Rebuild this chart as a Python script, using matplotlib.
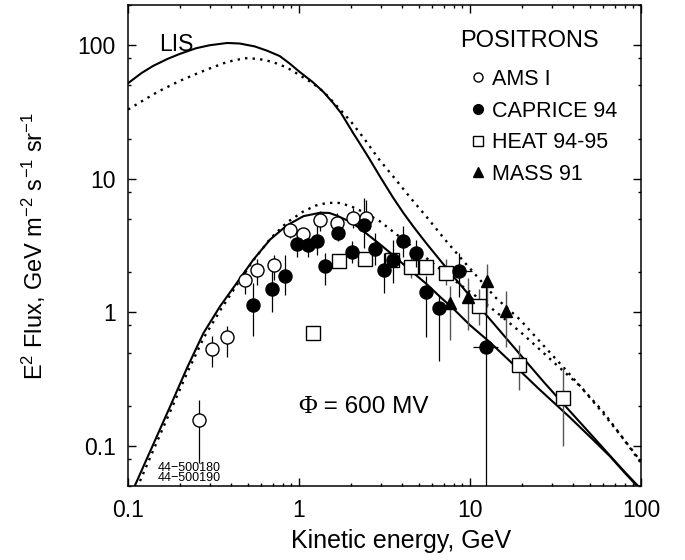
"""
Positronen-Spektrum: E^2 Flux vs kinetische Energie
- LIS und moduliert (Phi = 600 MV), zwei Modelle (durchgezogen / gepunktet)
- Messdaten AMS I, CAPRICE 94, HEAT 94-95, MASS 91
"""

import matplotlib
matplotlib.use("Agg")
import matplotlib.pyplot as plt
import numpy as np
from matplotlib.lines import Line2D
from matplotlib.ticker import FixedLocator, FixedFormatter, LogLocator, NullFormatter

# --- Modellkurven (E in GeV, E^2 Flux) ---
lis_solid_e = [0.1, 0.12, 0.14, 0.17, 0.2, 0.25, 0.3, 0.38, 0.45, 0.55, 0.65, 0.77,
               0.88, 1.0, 1.2, 1.38, 1.58, 1.76, 2.07, 2.3, 2.56, 2.97, 3.55, 4.07,
               4.66, 5.5, 6.7, 8, 10, 14, 19, 27, 38, 52, 66, 80, 92, 100]
lis_solid_f = [52, 62, 70, 79, 86, 95, 100, 104, 103, 98, 91, 83,
               73, 63.6, 53, 45, 37, 31, 22, 17.8, 14.3, 10.4, 7.2, 5.55,
               4.38, 3.33, 2.44, 1.85, 1.32, 0.80, 0.506, 0.30, 0.184, 0.118, 0.084, 0.064, 0.053, 0.0475]

lis_dot_e = [0.1, 0.12, 0.15, 0.2, 0.25, 0.3, 0.38, 0.48, 0.58, 0.7, 0.85, 1.0,
             1.2, 1.4, 1.7, 2.0, 2.4, 2.93, 3.64, 4.56, 5.7, 7, 8.7, 11,
             14, 19.6, 27, 35, 44, 60, 80, 100]
lis_dot_f = [33, 38, 45, 54, 61, 67, 75, 80, 79, 75, 68, 60,
             52, 44.5, 34, 27, 20, 14, 10, 7.0, 5.0, 3.6, 2.6, 1.85,
             1.3, 0.88, 0.56, 0.39, 0.28, 0.175, 0.11, 0.076]

mod_solid_e = [0.105, 0.11, 0.14, 0.176, 0.221, 0.276, 0.345, 0.432, 0.54, 0.677,
               0.847, 1.06, 1.33, 1.5, 1.66, 2.0, 2.27, 2.6, 3.0, 3.4, 3.9, 4.5,
               5.5, 6.7, 8, 10, 13, 17.8, 25, 38, 52, 66, 80, 92, 100]
mod_solid_f = [0.042, 0.051, 0.102, 0.197, 0.383, 0.70, 1.11, 1.66, 2.48, 3.51,
               4.47, 5.25, 5.57, 5.55, 5.3, 4.75, 4.25, 3.7, 3.2, 2.8, 2.4, 2.05,
               1.65, 1.3, 1.06, 0.8, 0.6, 0.41, 0.27, 0.165, 0.112, 0.083, 0.063, 0.052, 0.046]

mod_dot_e = [0.108, 0.114, 0.14, 0.176, 0.221, 0.276, 0.345, 0.432, 0.54, 0.677,
             0.847, 1.06, 1.25, 1.46, 1.7, 2.0, 2.4, 2.97, 3.9, 5.0, 6.0, 8.0,
             11, 15, 20, 25, 33, 44, 60, 80, 100]
mod_dot_f = [0.043, 0.05, 0.092, 0.18, 0.35, 0.64, 1.03, 1.6, 2.45, 3.55,
             4.7, 5.7, 6.3, 6.6, 6.6, 6.25, 5.6, 4.8, 3.65, 2.85, 2.35, 1.75,
             1.3, 0.95, 0.7, 0.54, 0.39, 0.28, 0.18, 0.11, 0.074]

# --- Messdaten ---
ams_e = [0.26, 0.31, 0.38, 0.48, 0.57, 0.71, 0.89, 1.06, 1.33, 1.66, 2.06, 2.47]
ams_f = [0.155, 0.53, 0.65, 1.76, 2.09, 2.25, 4.17, 3.83, 4.9, 4.68, 5.1, 5.1]
ams_lo = [0.074, 0.39, 0.46, 1.36, 1.6, 1.75, 3.6, 3.3, 4.05, 4.0, 4.3, 4.3]
ams_hi = [0.22, 0.66, 0.79, 2.1, 2.5, 2.7, 4.7, 4.3, 5.7, 5.5, 6.0, 6.9]

caprice_e = [0.54, 0.69, 0.83, 0.97, 1.13, 1.27, 1.42, 1.68, 2.03, 2.40, 2.78,
             3.14, 3.53, 4.04, 4.83, 5.53, 6.6, 8.66, 12.4]
caprice_f = [1.14, 1.50, 1.86, 3.26, 3.18, 3.41, 2.24, 3.94, 2.84, 4.47, 2.99,
             2.07, 2.48, 3.45, 2.76, 1.41, 1.08, 2.03, 0.55]
caprice_lo = [0.66, 1.0, 1.35, 2.6, 2.6, 2.7, 1.6, 3.4, 2.35, 3.05, 2.28,
              1.4, 1.67, 2.6, 2.2, 0.65, 0.43, 1.31, 0.01]
caprice_hi = [1.67, 2.05, 2.7, 4.0, 4.0, 4.4, 2.8, 4.55, 3.4, 7.2, 3.95,
              2.8, 3.5, 4.4, 3.5, 1.86, 1.35, 2.8, 1.7]
caprice_elo = [0.50, 0.69, 0.83, 0.97, 1.13, 1.27, 1.42, 1.68, 2.03, 2.40, 2.78,
               3.14, 3.53, 4.04, 4.83, 5.53, 6.6, 8.2, 10.4]
caprice_ehi = [0.58, 0.69, 0.83, 0.97, 1.13, 1.27, 1.42, 1.68, 2.03, 2.40, 2.78,
               3.14, 3.53, 4.04, 4.83, 5.53, 6.6, 10.2, 14.6]

heat_e = [1.20, 1.72, 2.43, 3.48, 4.5, 5.53, 7.24, 11.3, 19.2, 35.1]
heat_f = [0.70, 2.44, 2.52, 2.45, 2.18, 2.18, 1.98, 1.11, 0.40, 0.23]
heat_lo = [0.68, 2.2, 2.3, 2.2, 1.8, 1.9, 1.6, 0.8, 0.26, 0.10]
heat_hi = [0.72, 2.7, 2.75, 2.7, 2.6, 2.5, 2.5, 1.5, 0.57, 0.39]

mass_e = [7.64, 9.7, 12.5, 16.3]
mass_f = [1.18, 1.30, 1.71, 1.02]
mass_lo = [0.62, 0.74, 1.1, 0.55]
mass_hi = [1.57, 1.82, 2.3, 1.44]

x_ticks = [0.1, 1, 10, 100]
x_ticklabels = ["0.1", "1", "10", "100"]
y_ticks = [0.1, 1, 10, 100]
y_ticklabels = ["0.1", "1", "10", "100"]


def yerr(f, lo, hi):
    f = np.array(f)
    return [f - np.array(lo), np.array(hi) - f]


def main():
    plt.rcParams["font.family"] = ["Liberation Sans", "DejaVu Sans"]
    plt.rcParams["mathtext.fontset"] = "custom"
    plt.rcParams["mathtext.rm"] = "Liberation Sans"
    plt.rcParams["mathtext.it"] = "Liberation Sans:italic"

    fig = plt.figure(figsize=(6.85, 5.6), dpi=100)
    ax = fig.add_axes([0.187, 0.132, 0.749, 0.859])

    # Kurven
    ax.plot(lis_solid_e, lis_solid_f, color="black", lw=1.5)
    ax.plot(lis_dot_e, lis_dot_f, color="black", lw=1.7, ls=(0, (1, 2.2)))
    ax.plot(mod_solid_e, mod_solid_f, color="black", lw=1.5)
    ax.plot(mod_dot_e, mod_dot_f, color="black", lw=1.7, ls=(0, (1, 2.2)))

    # Daten
    ax.errorbar(heat_e, heat_f, yerr=yerr(heat_f, heat_lo, heat_hi),
                fmt="s", ms=9.4, mfc="white", mec="black", mew=1.0,
                ecolor="#555555", elinewidth=1.0, zorder=3)
    ax.errorbar(mass_e, mass_f, yerr=yerr(mass_f, mass_lo, mass_hi),
                fmt="^", ms=8.5, mfc="black", mec="black",
                ecolor="#555555", elinewidth=1.0, zorder=3)
    ax.errorbar(ams_e, ams_f, yerr=yerr(ams_f, ams_lo, ams_hi),
                fmt="o", ms=9.4, mfc="white", mec="black", mew=1.0,
                ecolor="black", elinewidth=0.9, zorder=4)
    ax.errorbar(caprice_e, caprice_f, yerr=yerr(caprice_f, caprice_lo, caprice_hi),
                xerr=yerr(caprice_e, caprice_elo, caprice_ehi),
                fmt="o", ms=9.4, mfc="black", mec="black",
                ecolor="black", elinewidth=0.9, zorder=4)

    ax.set_xscale("log")
    ax.set_yscale("log")
    ax.set_xlim(0.1, 100)
    ax.set_ylim(0.05, 200)

    ax.xaxis.set_major_locator(FixedLocator(x_ticks))
    ax.xaxis.set_major_formatter(FixedFormatter(x_ticklabels))
    ax.xaxis.set_minor_locator(LogLocator(base=10, subs=np.arange(2, 10)))
    ax.xaxis.set_minor_formatter(NullFormatter())
    ax.yaxis.set_major_locator(FixedLocator(y_ticks))
    ax.yaxis.set_major_formatter(FixedFormatter(y_ticklabels))
    ax.yaxis.set_minor_locator(LogLocator(base=10, subs=(2, 5, 8)))
    ax.yaxis.set_minor_formatter(NullFormatter())

    ax.tick_params(which="both", direction="in", top=True, right=True, width=1.0)
    ax.tick_params(which="major", length=5.5, labelsize=16.5)
    ax.tick_params(which="minor", length=2.5)
    ax.tick_params(axis="x", which="major", pad=9)
    ax.tick_params(axis="y", which="major", pad=9)
    for s in ax.spines.values():
        s.set_linewidth(1.1)

    ax.set_xlabel("Kinetic energy, GeV", fontsize=18)
    ax.xaxis.set_label_coords(0.532, -0.09)
    ax.set_ylabel(r"E$^2$ Flux, GeV m$^{-2}$ s$^{-1}$ sr$^{-1}$", fontsize=17)
    ax.yaxis.set_label_coords(-0.156, 0.5)

    # Texte
    ax.text(0.06, 0.917, "LIS", transform=ax.transAxes, fontsize=16.5, va="center")
    phi = ax.text(0.331, 0.164, "Φ", transform=ax.transAxes, fontsize=18.5,
                  va="center", family=["Liberation Serif", "DejaVu Serif"])
    ax.annotate(" = 600 MV", xy=(1, 0.5), xycoords=phi, va="center", fontsize=17.5)
    ax.text(0.058, 0.037, "44\u2212500180", transform=ax.transAxes, fontsize=9, va="center")
    ax.text(0.058, 0.017, "44\u2212500190", transform=ax.transAxes, fontsize=9, va="center")
    ax.text(0.647, 0.925, "POSITRONS", transform=ax.transAxes, fontsize=17, va="center")

    handles = [
        Line2D([], [], ls="none", marker="o", ms=6.5, mfc="white", mec="black"),
        Line2D([], [], ls="none", marker="o", ms=7, mfc="black", mec="black"),
        Line2D([], [], ls="none", marker="s", ms=6.5, mfc="white", mec="black"),
        Line2D([], [], ls="none", marker="^", ms=7, mfc="black", mec="black"),
    ]
    labels = ["AMS I", "CAPRICE 94", "HEAT 94-95", "MASS 91"]
    ax.legend(handles, labels, loc="upper left", bbox_to_anchor=(0.666, 0.867),
              frameon=False, fontsize=15.5, borderpad=0, borderaxespad=0,
              handlelength=0.8, handletextpad=0.25, labelspacing=0.49)

    fig.savefig("out.png", dpi=100)


if __name__ == "__main__":
    main()
